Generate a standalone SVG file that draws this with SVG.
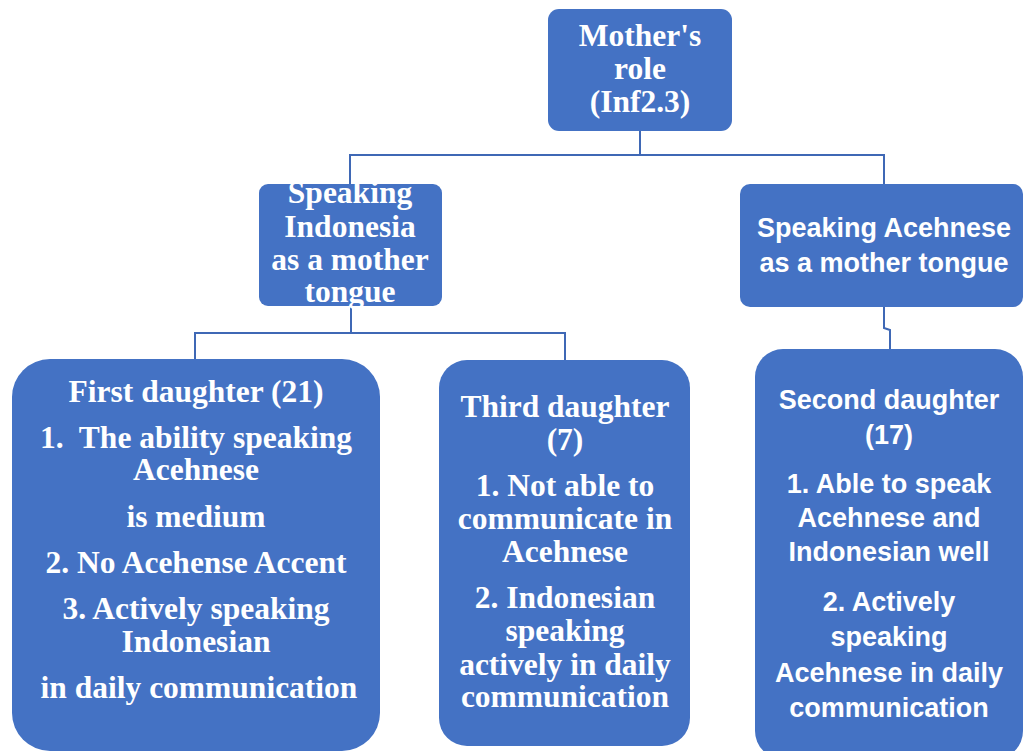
<svg xmlns="http://www.w3.org/2000/svg" width="1023" height="751" viewBox="0 0 1023 751">
<style>
.box{fill:#4472C4;}
.conn{fill:none;stroke:#3F68B5;stroke-width:2;}
.serif{font-family:"Liberation Serif","Times New Roman",serif;font-weight:bold;font-size:31.5px;fill:#FFFFFF;text-anchor:middle;}
.sans{font-family:"Liberation Sans",Arial,sans-serif;font-weight:bold;font-size:27px;fill:#FFFFFF;text-anchor:middle;}
</style>
<rect width="1023" height="751" fill="#FFFFFF"/>
<g id="connectors">
<polyline class="conn" points="640,131 640,155 350,155 350,184"/>
<polyline class="conn" points="640,155 884,155 884,184"/>
<polyline class="conn" points="351,306 351,333 195,333 195,359"/>
<polyline class="conn" points="351,333 565,333 565,360"/>
<polyline class="conn" points="884,307 884,328 890,330 890,349"/>
</g>
<g id="mothers-role">
<rect class="box" x="548" y="9" width="184" height="122" rx="11"/>
<text class="serif" x="640" y="46">Mother's</text>
<text class="serif" x="640" y="79">role</text>
<text class="serif" x="640" y="112">(Inf2.3)</text>
</g>
<g id="speaking-indonesia">
<rect class="box" x="259" y="184" width="183" height="122" rx="9"/>
<text class="serif" x="350" y="203">Speaking</text>
<text class="serif" x="350" y="237">Indonesia</text>
<text class="serif" x="350" y="270">as a mother</text>
<text class="serif" x="350" y="302">tongue</text>
</g>
<g id="speaking-acehnese">
<rect class="box" x="740" y="184" width="283" height="123" rx="10"/>
<text class="sans" x="884" y="237">Speaking Acehnese</text>
<text class="sans" x="884" y="272">as a mother tongue</text>
</g>
<g id="first-daughter">
<rect class="box" x="12" y="359" width="368" height="392" rx="38"/>
<text class="serif" x="196" y="402">First daughter (21)</text>
<text class="serif" x="196" y="448" xml:space="preserve">1.  The ability speaking</text>
<text class="serif" x="196" y="480">Acehnese</text>
<text class="serif" x="196" y="527">is medium</text>
<text class="serif" x="196" y="573">2. No Acehense Accent</text>
<text class="serif" x="196" y="619">3. Actively speaking</text>
<text class="serif" x="196" y="652">Indonesian</text>
<text class="serif" x="199" y="698">in daily communication</text>
</g>
<g id="third-daughter">
<rect class="box" x="439" y="360" width="251" height="386" rx="28"/>
<text class="serif" x="565" y="417">Third daughter</text>
<text class="serif" x="565" y="450">(7)</text>
<text class="serif" x="565" y="496">1. Not able to</text>
<text class="serif" x="565" y="529">communicate in</text>
<text class="serif" x="565" y="562">Acehnese</text>
<text class="serif" x="565" y="608">2. Indonesian</text>
<text class="serif" x="565" y="641">speaking</text>
<text class="serif" x="565" y="675">actively in daily</text>
<text class="serif" x="565" y="707">communication</text>
</g>
<g id="second-daughter">
<rect class="box" x="755" y="349" width="268" height="410" rx="28"/>
<text class="sans" x="889" y="409">Second daughter</text>
<text class="sans" x="889" y="444">(17)</text>
<text class="sans" x="889" y="493">1. Able to speak</text>
<text class="sans" x="889" y="527">Acehnese and</text>
<text class="sans" x="889" y="561">Indonesian well</text>
<text class="sans" x="889" y="611">2. Actively</text>
<text class="sans" x="889" y="646">speaking</text>
<text class="sans" x="889" y="682">Acehnese in daily</text>
<text class="sans" x="889" y="717">communication</text>
</g>
</svg>
